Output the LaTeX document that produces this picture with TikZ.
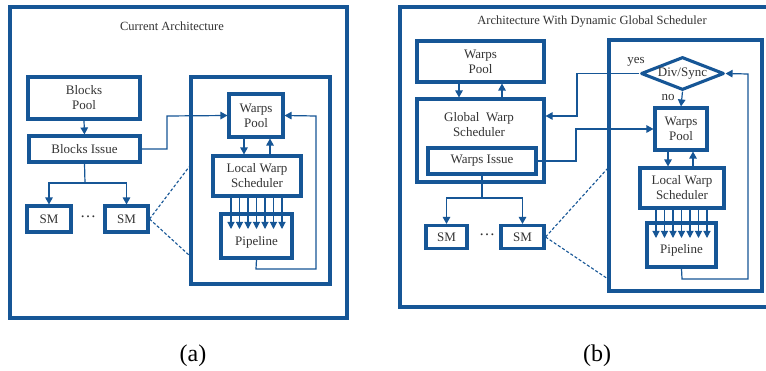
\documentclass[tikz,border=0pt]{standalone}
\usepackage{fontspec}
\setmainfont{Liberation Serif}
\usetikzlibrary{arrows.meta,shapes.geometric}
\definecolor{bl}{RGB}{22,86,150}
\tikzset{
  box/.style={draw=bl, line width=3.1pt, rectangle, inner sep=0pt, align=center,
    font=\fontsize{13}{15}\selectfont, text=black!80},
  frame/.style={draw=bl, line width=3.3pt},
  conn/.style={draw=bl, line width=1.2pt},
  arr/.style={conn, -{Triangle[width=7.5pt,length=7pt]}},
  parr/.style={draw=bl, line width=1.1pt, -{Triangle[width=7pt,length=7pt]}},
  dsh/.style={draw=bl, line width=1.1pt, dash pattern=on 3pt off 2pt},
  ttl/.style={font=\fontsize{12.5}{14}\selectfont, text=black!80, inner sep=0pt},
  lbl/.style={font=\fontsize{13}{15}\selectfont, text=black!80, inner sep=0pt},
  dots/.style={font=\fontsize{16}{16}\selectfont, text=black!80, inner sep=0pt},
  captxt/.style={font=\fontsize{24}{28}\selectfont, inner sep=0pt}
}
\begin{document}
\begin{tikzpicture}[x=1pt,y=-1pt]
\useasboundingbox (0,0) rectangle (766,371);
\fill[white] (0,0) rectangle (766,371);

% ---------------- (a) ----------------
\draw[frame] (10,7) rectangle (347,318);
\node[ttl] (ta) at (172,26) {Current Architecture};
\node[box, minimum width=112pt, minimum height=42pt] (bp) at (84,98) {Blocks\\Pool};
\node[box, minimum width=111pt, minimum height=26pt] (bi) at (84.5,149) {Blocks Issue};
\node[box, minimum width=44pt, minimum height=26pt] (sma) at (49,219) {SM};
\node[box, minimum width=43pt, minimum height=26pt] (smb) at (126.5,219) {SM};
\node[dots] (dota) at (88,217) {…};
\draw[frame] (191,77) rectangle (330,284);
\node[box, minimum width=54pt, minimum height=43pt] (wpa) at (256,115.5) {Warps\\Pool};
\node[box, minimum width=88pt, minimum height=40pt] (lwa) at (257,176) {Local Warp\\Scheduler};
\node[box, minimum width=71pt, minimum height=44pt] (ppa) at (256.5,236) {};
\node[lbl] (ppat) at (256.5,242) {Pipeline};

\coordinate (ja) at (85,183);
\draw[arr] (bp.south) -- (bi.north);
\draw[conn] (bi.south) -- (ja);
\draw[arr] (ja) -| (sma.north);
\draw[arr] (ja) -| (smb.north);
\coordinate (ca) at (167,116);
\draw[arr] (bi.east) -| (ca) -- (wpa.west);
\draw[arr] ([xshift=-12pt]wpa.south) -- ([xshift=-12pt]wpa.south |- lwa.north);
\draw[arr] ([xshift=13pt]lwa.north) -- ([xshift=13pt]lwa.north |- wpa.south);
\foreach \i in {0,...,6}{
  \coordinate (pa\i) at (231+8.5*\i,229);
  \draw[parr] (pa\i |- lwa.south) -- (pa\i);
}
\coordinate (fa1) at (256,269);
\coordinate (fa2) at (316,116);
\draw[arr] (ppa.south) -- (fa1) -| (fa2) -- (wpa.east);
\coordinate (da1) at (189,167);
\coordinate (da2) at (190,256);
\draw[dsh] (smb.east) -- (da1);
\draw[dsh] (smb.east) -- (da2);
\node[captxt] (capa) at (193,356) {(a)};

% ---------------- (b) ----------------
\begin{scope}
\clip (395,0) rectangle (766,371);
\draw[frame] (400,7) rectangle (780,307);
\end{scope}
\node[ttl] (tb) at (592,22) {Architecture With Dynamic Global Scheduler};
\node[box, minimum width=127pt, minimum height=41pt] (wpl) at (480.5,61.5) {Warps\\Pool};
\node[box, minimum width=127pt, minimum height=83pt] (gws) at (480.5,140.5) {};
\node[lbl, align=center] (gwst) at (479,125) {Global\ \ Warp\\Scheduler};
\node[box, minimum width=108pt, minimum height=26pt] (wi) at (482,161) {Warps Issue};
\node[box, minimum width=41pt, minimum height=23pt] (smc) at (446.5,237) {SM};
\node[box, minimum width=43pt, minimum height=23pt] (smd) at (522.5,237) {SM};
\node[dots] (dotb) at (487,235) {…};
\draw[frame] (609,40) rectangle (762,291);
\node[draw=bl, line width=3.1pt, diamond, minimum width=83pt, minimum height=33pt, inner sep=0pt,
  shape aspect=2.5, line join=round, font=\fontsize{13}{15}\selectfont, text=black!80] (ds) at (682.5,73.5) {Div/Sync};
\node[lbl] (yes) at (636,62) {yes};
\node[lbl] (no) at (668,98) {no};
\node[box, minimum width=52pt, minimum height=42pt] (wpr) at (681,129) {Warps\\Pool};
\node[box, minimum width=84pt, minimum height=40pt] (lwb) at (682,188) {Local Warp\\Scheduler};
\node[box, minimum width=69pt, minimum height=44pt] (ppb) at (681.5,245) {};
\node[lbl] (ppbt) at (681.5,250) {Pipeline};

\draw[arr] ([xshift=-21.5pt]wpl.south) -- ([xshift=-21.5pt]wpl.south |- gws.north);
\draw[arr] ([xshift=21.5pt]gws.north) -- ([xshift=21.5pt]gws.north |- wpl.south);
\coordinate (jb) at (482,198);
\draw[conn] (wi.south) -- (jb);
\draw[arr] (jb) -| (smc.north);
\draw[arr] (jb) -| (smd.north);
\draw[arr] (ds.south) -- (wpr.north);
\draw[arr] ([xshift=-13pt]wpr.south) -- ([xshift=-13pt]wpr.south |- lwb.north);
\draw[arr] ([xshift=11pt]lwb.north) -- ([xshift=11pt]lwb.north |- wpr.south);
\foreach \i in {0,...,6}{
  \coordinate (pb\i) at (656+8.5*\i,238);
  \draw[parr] (pb\i |- lwb.south) -- (pb\i);
}
\coordinate (fb1) at (682,279);
\coordinate (fb2) at (748,74);
\draw[arr] (ppb.south) -- (fb1) -| (fb2) -- (ds.east);
\coordinate (gb1) at (577,116);
\draw[arr] (ds.west) -| (gb1) -- (gws.east |- gb1);
\coordinate (gb2) at (576,129);
\draw[arr] (wi.east) -| (gb2) -- (wpr.west);
\coordinate (db1) at (608,168);
\coordinate (db2) at (608,279);
\draw[dsh] (smd.east) -- (db1);
\draw[dsh] (smd.east) -- (db2);
\node[captxt] (capb) at (597,356) {(b)};
\end{tikzpicture}
\end{document}
